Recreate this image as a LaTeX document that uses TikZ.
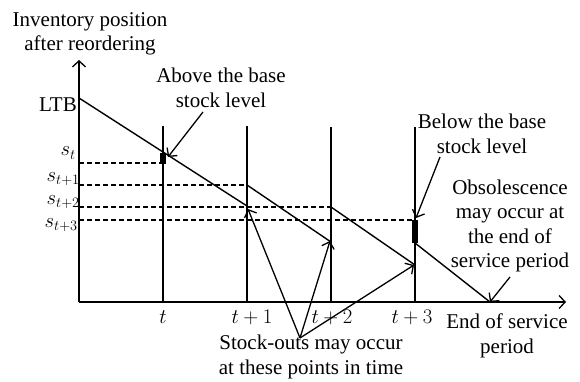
\documentclass[tikz,border=0pt]{standalone}
\usepackage{fontspec}
\setmainfont{Liberation Serif}
\usetikzlibrary{arrows.meta}
\begin{document}
\begin{tikzpicture}[x=1pt,y=-1pt,
  lbl/.style={font=\fontsize{21}{24.5}\selectfont, align=center, inner sep=0pt},
  mlbl/.style={font=\fontsize{21}{24.5}\selectfont, inner sep=0pt},
  slbl/.style={font=\fontsize{21.5}{24.5}\selectfont, inner sep=0pt},
  axis/.style={line width=1.3pt},
  tline/.style={line width=2pt},
  saw/.style={line width=1.4pt},
  lev/.style={line width=1.8pt, dash pattern=on 5pt off 3pt},
  barb/.style={-{Straight Barb[length=6pt,width=13pt,line width=1.3pt]}},
  callout/.style={line width=1.3pt, barb},
  blk/.style={fill=black}
]
\useasboundingbox (0,0) rectangle (580,382);
% axes
\coordinate (O) at (79,302);
\coordinate (Ytop) at (79,60);
\coordinate (Xend) at (566,302);
\draw[axis, barb] (O) -- (Ytop);
\draw[axis, barb] (O) -- (Xend);
% period lines
\coordinate (T0t) at (163,126); \coordinate (T0b) at (163,302);
\coordinate (T1t) at (247,126); \coordinate (T1b) at (247,302);
\coordinate (T2t) at (331,127); \coordinate (T2b) at (331,302);
\coordinate (T3t) at (415,127); \coordinate (T3b) at (415,302);
\draw[tline] (T0t) -- (T0b);
\draw[tline] (T1t) -- (T1b);
\draw[tline] (T2t) -- (T2b);
\draw[tline] (T3t) -- (T3b);
% levels
\coordinate (S0a) at (79,163); \coordinate (S0b) at (163,163);
\coordinate (S1a) at (79,185); \coordinate (S1b) at (247,185);
\coordinate (S2a) at (79,207); \coordinate (S2b) at (331,207);
\coordinate (S3a) at (79,220); \coordinate (S3b) at (415,220);
\draw[lev] (S0a) -- (S0b);
\draw[lev] (S1a) -- (S1b);
\draw[lev] (S2a) -- (S2b);
\draw[lev] (S3a) -- (S3b);
% inventory path
\coordinate (A) at (79,98);
\coordinate (B1) at (247,206);
\coordinate (C1) at (331,242);
\coordinate (D1) at (415,265);
\coordinate (D3) at (415,243);
\coordinate (E) at (490,302);
\draw[saw] (A) -- (B1);
\draw[saw] (S1b) -- (C1);
\draw[saw] (S2b) -- (D1);
\draw[saw] (D3) -- (E);
% markers
\fill[blk] (160,153) rectangle (166,164);
\fill[blk] (412,220) rectangle (418,243);
% axis labels
\node[lbl] (ylab) at (90,34) {Inventory position\\after reordering};
\node[lbl, anchor=east] (ltb) at (77,105) {LTB};
\node[slbl, anchor=east] (ls0) at (76,153) {$s_t$};
\node[slbl, anchor=east] (ls1) at (80,179) {$s_{t+1}$};
\node[slbl, anchor=east] (ls2) at (80,202) {$s_{t+2}$};
\node[slbl, anchor=east] (ls3) at (78,225) {$s_{t+3}$};
\node[mlbl] (lt0) at (163,317) {$t$};
\node[mlbl] (lt1) at (252,317) {$t+1$};
\node[mlbl] (lt2) at (332,317) {$t+2$};
\node[mlbl] (lt3) at (412,317) {$t+3$};
\node[lbl] (endp) at (507,336) {End of service\\period};
% callouts
\node[lbl] (above) at (221,88) {Above the base\\stock level};
\coordinate (abS) at (203,112);
\coordinate (abE) at (168,157);
\draw[callout] (abS) -- (abE);
\node[lbl] (below) at (482,134) {Below the base\\stock level};
\coordinate (beS) at (440,157);
\coordinate (beE) at (416,218);
\draw[callout] (beS) -- (beE);
\node[lbl] (obs) at (510,226) {Obsolescence\\may occur at\\the end of\\service period};
\coordinate (obS) at (510,277);
\draw[callout] (obS) -- (E);
\node[lbl] (stock) at (311,357) {Stock-outs may occur\\at these points in time};
\coordinate (V) at (300,338);
\coordinate (P1) at (248,209);
\coordinate (P2) at (330,241);
\coordinate (P3) at (414,265);
\draw[callout] (V) -- (P1);
\draw[callout] (V) -- (P2);
\draw[callout] (V) -- (P3);
\end{tikzpicture}
\end{document}
